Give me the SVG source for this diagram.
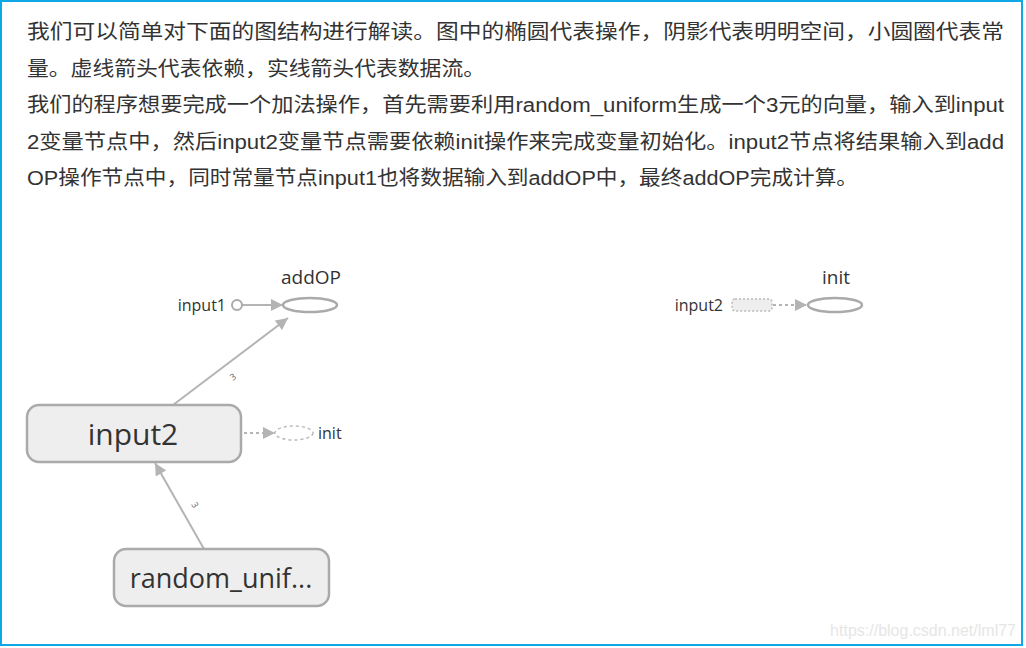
<svg xmlns="http://www.w3.org/2000/svg" width="1026" height="648" viewBox="0 0 1026 648">
<style>
.para{font-family:"Liberation Sans","Noto Sans CJK SC",sans-serif;font-size:20px;fill:#333}
.lbl{font-family:"Open Sans","Noto Sans",sans-serif;fill:#333}
.edge{fill:none;stroke:#b4b4b4;stroke-width:2}
.dash{fill:none;stroke:#b4b4b4;stroke-width:2;stroke-dasharray:3 3}
.box{fill:#eeeeee;stroke:#aaaaaa;stroke-width:2.5}
.op{fill:#ffffff;stroke:#aaaaaa;stroke-width:2.5}
.elab{font-family:"Open Sans","Noto Sans",sans-serif;font-size:9px;fill:#666}
</style>
<defs>
<marker id="ah" viewBox="0 0 10 10" refX="10" refY="5" markerWidth="13" markerHeight="12" markerUnits="userSpaceOnUse" orient="auto">
<path d="M0,0 L10,5 L0,10 Z" fill="#b4b4b4"/>
</marker>
</defs>
<rect x="1" y="1" width="1021" height="644" fill="#ffffff" stroke="#0fa8e6" stroke-width="2"/>
<g id="text">
<text class="para" x="27" y="39" textLength="977" lengthAdjust="spacingAndGlyphs">我们可以简单对下面的图结构进行解读。图中的椭圆代表操作，阴影代表明明空间，小圆圈代表常</text>
<text class="para" x="27" y="76" textLength="458" lengthAdjust="spacingAndGlyphs">量。虚线箭头代表依赖，实线箭头代表数据流。</text>
<text class="para" x="27" y="112" textLength="977" lengthAdjust="spacingAndGlyphs">我们的程序想要完成一个加法操作，首先需要利用random_uniform生成一个3元的向量，输入到input</text>
<text class="para" x="27" y="149" textLength="977" lengthAdjust="spacingAndGlyphs">2变量节点中，然后input2变量节点需要依赖init操作来完成变量初始化。input2节点将结果输入到add</text>
<text class="para" x="27" y="185" textLength="831" lengthAdjust="spacingAndGlyphs">OP操作节点中，同时常量节点input1也将数据输入到addOP中，最终addOP完成计算。</text>
</g>
<g id="connectors">
<line class="edge" x1="242" y1="305" x2="283" y2="305" marker-end="url(#ah)"/>
<line class="edge" x1="173" y1="405" x2="288" y2="318" marker-end="url(#ah)"/>
<line class="edge" x1="204" y1="549" x2="155" y2="463" marker-end="url(#ah)"/>
<line class="dash" x1="244" y1="433" x2="275" y2="433" marker-end="url(#ah)"/>
<line class="dash" x1="773" y1="305" x2="807" y2="305" marker-end="url(#ah)"/>
<text class="elab" x="233" y="380" transform="rotate(-37 233 377)" text-anchor="middle">3</text>
<text class="elab" x="195" y="508" transform="rotate(60 195 505)" text-anchor="middle">3</text>
</g>
<g id="addOP">
<text class="lbl" x="311" y="284" font-size="19" text-anchor="middle">addOP</text>
<ellipse class="op" cx="310" cy="305" rx="27" ry="7"/>
</g>
<g id="input1">
<text class="lbl" x="226" y="311" font-size="16" text-anchor="end">input1</text>
<circle cx="237" cy="305" r="5" fill="#ffffff" stroke="#aaaaaa" stroke-width="2"/>
</g>
<g id="init">
<text class="lbl" x="836" y="284" font-size="19" text-anchor="middle">init</text>
<ellipse class="op" cx="835" cy="305" rx="27" ry="7"/>
</g>
<g id="input2-ref">
<text class="lbl" x="723" y="311" font-size="16" text-anchor="end">input2</text>
<rect x="732" y="299" width="40" height="12" rx="3" fill="#eeeeee" stroke="#bbbbbb" stroke-width="1.5" stroke-dasharray="2 2"/>
</g>
<g id="input2">
<rect class="box" x="27" y="405" width="214" height="57" rx="12"/>
<text class="lbl" x="133" y="445" font-size="30" text-anchor="middle">input2</text>
</g>
<g id="init-ref">
<ellipse cx="294" cy="433" rx="19" ry="7" fill="#ffffff" stroke="#bbbbbb" stroke-width="1.5" stroke-dasharray="3 3"/>
<text class="lbl" x="318" y="439" font-size="16">init</text>
</g>
<g id="random_uniform">
<rect class="box" x="114" y="549" width="215" height="57" rx="12"/>
<text class="lbl" x="221" y="588" font-size="27" text-anchor="middle">random_unif...</text>
</g>
<text x="1016" y="636" font-family="'Liberation Sans',sans-serif" font-size="16" fill="#e6e6e6" text-anchor="end">https://blog.csdn.net/lml77</text>
</svg>
